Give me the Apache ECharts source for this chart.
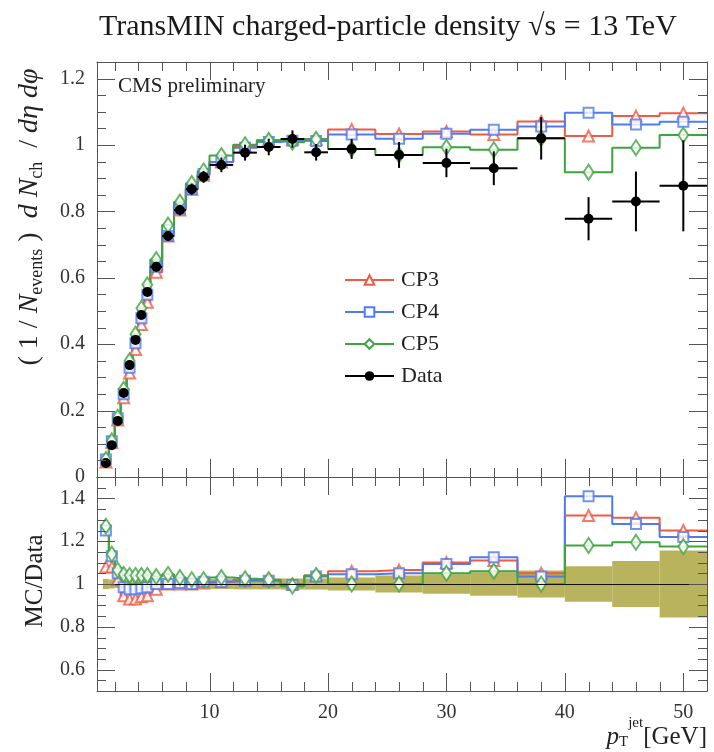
<!DOCTYPE html>
<html><head><meta charset="utf-8">
<script src="https://cdn.jsdelivr.net/npm/echarts@6/dist/echarts.min.js"></script>
<style>html,body{margin:0;padding:0;background:#fff}#c{width:714px;height:752px}</style>
</head><body><div id="c"></div>
<script>
// ---- data ----
const binEdges = [1,1.5,2,2.5,3,3.5,4,4.5,5,6,7,8,9,10,12,14,16,18,20,24,28,32,36,40,44,48,52];
const dataVals = [0.042,0.096,0.169,0.253,0.337,0.413,0.488,0.557,0.633,0.726,0.804,0.867,0.904,0.940,0.977,0.994,1.018,0.978,0.988,0.970,0.946,0.930,1.020,0.778,0.830,0.877];
const dataErr  = [0.001,0.002,0.003,0.005,0.007,0.008,0.010,0.011,0.013,0.015,0.016,0.017,0.018,0.022,0.024,0.025,0.026,0.025,0.030,0.039,0.043,0.051,0.064,0.065,0.090,0.137];
const cp3Vals  = [0.045,0.104,0.172,0.239,0.313,0.384,0.459,0.526,0.617,0.726,0.804,0.867,0.909,0.949,0.997,1.014,1.018,1.017,1.047,1.033,1.041,1.032,1.071,1.027,1.087,1.096];
const cp4Vals  = [0.053,0.108,0.177,0.249,0.329,0.403,0.478,0.549,0.633,0.726,0.808,0.867,0.913,0.949,0.992,1.009,1.013,1.012,1.032,1.019,1.034,1.046,1.056,1.097,1.062,1.070];
const cp5Vals  = [0.053,0.109,0.180,0.264,0.350,0.430,0.508,0.579,0.655,0.759,0.828,0.884,0.922,0.968,1.001,1.014,1.008,1.017,0.988,0.970,0.993,0.986,1.020,0.918,0.992,1.030];
const cp3Ratio = [1.08,1.08,1.02,0.945,0.93,0.93,0.94,0.945,0.975,1.0,1.0,1.0,1.005,1.01,1.02,1.02,1.0,1.04,1.06,1.065,1.10,1.11,1.05,1.32,1.31,1.25];
const cp4Ratio = [1.25,1.13,1.05,0.985,0.975,0.975,0.98,0.985,1.0,1.0,1.005,1.0,1.01,1.01,1.015,1.015,0.995,1.035,1.045,1.05,1.093,1.125,1.035,1.41,1.28,1.22];
const cp5Ratio = [1.27,1.14,1.065,1.045,1.04,1.04,1.04,1.04,1.035,1.045,1.03,1.02,1.02,1.03,1.025,1.02,0.99,1.04,1.0,1.0,1.05,1.06,1.0,1.18,1.195,1.175];
const bandRel  = [0.024,0.021,0.018,0.02,0.021,0.019,0.02,0.02,0.02,0.021,0.02,0.02,0.02,0.023,0.025,0.025,0.026,0.026,0.03,0.04,0.045,0.055,0.063,0.083,0.108,0.156];
const seriesNames = ['CP3','CP4','CP5','Data'];
const xMajorTicks = [10,20,30,40,50];
const xMinorTicks = [2,4,6,8,12,14,16,18,22,24,26,28,32,34,36,38,42,44,46,48];
const yMainLabels = [0,0.2,0.4,0.6,0.8,1,1.2];
const yRatioLabels = [0.6,0.8,1,1.2,1.4];

// ---- style ----
const SERIF = '"Liberation Serif", "DejaVu Serif", serif';
const FRAME = '#555';
const RED = '#ef5a45', BLUE = '#4f7bf0', GREEN = '#3ea43e', BAND = '#bab35d';
const X_MIN = 0.5, X_MAX = 52;
const MAJOR_LEN = 18, MINOR_LEN = 9;

const centers = binEdges.slice(0,-1).map((e,i)=> (e + binEdges[i+1]) / 2);
function stepPts(vals){
  const pts = [];
  vals.forEach((v,i)=>{ pts.push([binEdges[i], v]); pts.push([centers[i], v]); });
  pts.push([binEdges[vals.length], vals[vals.length-1]]);
  return pts;
}
function minorList(lo, hi, step, majors){
  const out = [];
  for (let k = Math.round(lo/step); k*step <= hi + 1e-9; k++){
    const v = +(k*step).toFixed(3);
    if (!majors.some(m => Math.abs(m - v) < 1e-6)) out.push(v);
  }
  return out;
}
const yMainMinor = minorList(0, 1.25, 0.05, yMainLabels);
const yRatioMinor = minorList(0.5, 1.5, 0.05, yRatioLabels);
const fmt = v => String(+(+v).toFixed(2));

function xAx(grid, pos, labels){
  return {
    type:'value', gridIndex:grid, position:pos, min:X_MIN, max:X_MAX,
    axisLine:{show:true, onZero:false, lineStyle:{color:FRAME, width:1}},
    axisTick:{show:false},
    axisLabel: labels ? {show:true, customValues:labels, margin:12, fontFamily:SERIF, fontSize:20, color:'#333', formatter:fmt} : {show:false},
    splitLine:{show:false}
  };
}
function yAx(grid, pos, min, max, labels){
  return {
    type:'value', gridIndex:grid, position:pos, min:min, max:max,
    axisLine:{show:true, onZero:false, lineStyle:{color:FRAME, width:1}},
    axisTick:{show:false},
    axisLabel: labels ? {show:true, customValues:labels, margin:12, fontFamily:SERIF, fontSize:20, color:'#333', formatter:fmt} : {show:false},
    splitLine:{show:false}
  };
}
const xAxes = [ xAx(0,'bottom',null), xAx(0,'top',null), xAx(1,'bottom',xMajorTicks), xAx(1,'top',null) ];
const yAxes = [ yAx(0,'left',0,1.25,yMainLabels), yAx(0,'right',0,1.25,null),
                yAx(1,'left',0.5,1.5,yRatioLabels), yAx(1,'right',0.5,1.5,null) ];

function tickSeries(xi, yi, yMin, xMajor, xMinor, yMajor, yMinor){
  const items = [];
  xMajor.forEach(v=>items.push([0, v, MAJOR_LEN]));
  xMinor.forEach(v=>items.push([0, v, MINOR_LEN]));
  yMajor.forEach(v=>items.push([1, v, MAJOR_LEN]));
  yMinor.forEach(v=>items.push([1, v, MINOR_LEN]));
  return {
    name:'ticks'+xi, type:'custom', xAxisIndex:xi, yAxisIndex:yi, z:10, silent:true, clip:false,
    data:items,
    renderItem:(params, api)=>{
      const cs = params.coordSys;
      const kind = api.value(0), v = api.value(1), L = api.value(2);
      const st = {stroke:FRAME, lineWidth:1};
      if (kind === 0){
        const px = Math.round(api.coord([v, yMin])[0]) + 0.5;
        const yb = cs.y + cs.height, yt = cs.y;
        return {type:'group', children:[
          {type:'line', shape:{x1:px, y1:yb, x2:px, y2:yb-L}, style:st},
          {type:'line', shape:{x1:px, y1:yt, x2:px, y2:yt+L}, style:st}
        ]};
      } else {
        const py = Math.round(api.coord([X_MIN, v])[1]) + 0.5;
        const xl = cs.x, xr = cs.x + cs.width;
        return {type:'group', children:[
          {type:'line', shape:{x1:xl, y1:py, x2:xl+L, y2:py}, style:st},
          {type:'line', shape:{x1:xr, y1:py, x2:xr-L, y2:py}, style:st}
        ]};
      }
    }
  };
}

const mcDefs = [
  {name:'CP3', vals:cp3Vals, ratio:cp3Ratio, color:RED,   symbol:'emptyTriangle', size:11},
  {name:'CP4', vals:cp4Vals, ratio:cp4Ratio, color:BLUE,  symbol:'emptyRect',     size:10},
  {name:'CP5', vals:cp5Vals, ratio:cp5Ratio, color:GREEN, symbol:'emptyDiamond',  size:[10,15]}
];

const series = [];
series.push(tickSeries(0, 0, 0, xMajorTicks, xMinorTicks, yMainLabels, yMainMinor));
series.push(tickSeries(2, 2, 0.5, xMajorTicks, xMinorTicks, yRatioLabels, yRatioMinor));
series.push({
  name:'band', type:'custom', xAxisIndex:2, yAxisIndex:2, z:1, silent:true,
  data: bandRel.map((b,i)=>[binEdges[i], binEdges[i+1], b]),
  encode:{x:[0,1], y:2},
  renderItem:(params, api)=>{
    const lo=api.value(0), hi=api.value(1), b=api.value(2);
    const p1 = api.coord([lo, 1+b]), p2 = api.coord([hi, 1-b]);
    return {type:'rect', shape:{x:p1[0], y:p1[1], width:p2[0]-p1[0], height:p2[1]-p1[1]}, style:{fill:BAND}};
  },
  markLine:{silent:true, symbol:['none','none'], label:{show:false}, lineStyle:{color:'#111', width:1, type:'solid'}, data:[{yAxis:1}]}
});
mcDefs.forEach(d=>{
  series.push({
    name:d.name, type:'line', step:'end', xAxisIndex:0, yAxisIndex:0, z:3,
    data: stepPts(d.vals), showSymbol:false, symbol:d.symbol, symbolSize:10,
    itemStyle:{color:d.color}, lineStyle:{color:d.color, width:2}
  });
  series.push({
    name:d.name+' markers', type:'scatter', xAxisIndex:0, yAxisIndex:0, z:4,
    data: d.vals.map((v,i)=>[centers[i], v]), symbol:d.symbol, symbolSize:d.size,
    itemStyle:{color:d.color, borderWidth:1.5}
  });
  series.push({
    name:d.name+'/Data', type:'line', step:'end', xAxisIndex:2, yAxisIndex:2, z:3,
    data: stepPts(d.ratio), showSymbol:false, symbol:'none',
    lineStyle:{color:d.color, width:2}
  });
  series.push({
    name:d.name+'/Data markers', type:'scatter', xAxisIndex:2, yAxisIndex:2, z:4,
    data: d.ratio.map((v,i)=>[centers[i], v]), symbol:d.symbol, symbolSize:d.size,
    itemStyle:{color:d.color, borderWidth:1.5}
  });
});
series.push({
  name:'Data errors', type:'custom', xAxisIndex:0, yAxisIndex:0, z:6, silent:true,
  data: dataVals.map((v,i)=>[binEdges[i], binEdges[i+1], centers[i], v, dataErr[i]]),
  encode:{x:[0,1], y:3},
  renderItem:(params, api)=>{
    const lo=api.value(0), hi=api.value(1), c=api.value(2), v=api.value(3), e=api.value(4);
    const a=api.coord([lo,v]), b=api.coord([hi,v]), t=api.coord([c,v+e]), u=api.coord([c,v-e]);
    return {type:'group', children:[
      {type:'line', shape:{x1:a[0],y1:a[1],x2:b[0],y2:b[1]}, style:{stroke:'#000', lineWidth:2}},
      {type:'line', shape:{x1:t[0],y1:t[1],x2:u[0],y2:u[1]}, style:{stroke:'#000', lineWidth:2}}
    ]};
  }
});
series.push({
  name:'Data', type:'line', xAxisIndex:0, yAxisIndex:0, z:7,
  data: dataVals.map((v,i)=>[centers[i], v]), symbol:'circle', symbolSize:10, showSymbol:true,
  itemStyle:{color:'#000'}, lineStyle:{width:0, opacity:0}
});

const option = {
  animation:false,
  backgroundColor:'#fff',
  title:{text:'TransMIN charged-particle density √s = 13 TeV', left:94, top:7,
    textStyle:{fontFamily:SERIF, fontSize:30, fontWeight:'normal', color:'#1a1a1a'}},
  grid:[
    {left:97, right:7, top:62, height:415},
    {left:97, right:7, top:477, height:214}
  ],
  xAxis:xAxes, yAxis:yAxes,
  legend:{
    left:339, top:264, orient:'vertical', itemWidth:49, itemHeight:12, itemGap:10,
    data:[
      {name:'CP3'},{name:'CP4'},{name:'CP5'},
      {name:'Data', lineStyle:{color:'#000', width:2, opacity:1}}
    ],
    textStyle:{fontFamily:SERIF, fontSize:22, color:'#222', lineHeight:22, padding:[0,0,0,2]},
    selectedMode:false
  },
  graphic:[
    {type:'text', left:118, top:76, style:{text:'CMS preliminary', fontFamily:SERIF, fontSize:21, fill:'#222'}},
    {type:'text', x:30, y:217, rotation:Math.PI/2, style:{
      text:'{n|( 1 / }{i|N}{s|events}{n| )  }{i|d N}{s|ch}{n|  / }{i|dη dφ}',
      align:'center', verticalAlign:'middle',
      rich:{
        n:{fontFamily:SERIF, fontSize:28, fill:'#222', lineHeight:32, verticalAlign:'middle'},
        i:{fontFamily:SERIF, fontSize:28, fontStyle:'italic', fill:'#222', lineHeight:32, verticalAlign:'middle'},
        s:{fontFamily:SERIF, fontSize:18, fill:'#222', lineHeight:32, verticalAlign:'bottom'}
      }}},
    {type:'text', x:35, y:581, rotation:Math.PI/2, style:{
      text:'MC/Data', align:'center', verticalAlign:'middle', fontFamily:SERIF, fontSize:25, fill:'#222'}},
    {type:'text', right:7, top:716, style:{
      text:'{i|p}{s|T}{u|jet}{n|[GeV]}',
      rich:{
        n:{fontFamily:SERIF, fontSize:25, fill:'#222', lineHeight:34, verticalAlign:'bottom'},
        i:{fontFamily:SERIF, fontSize:25, fontStyle:'italic', fill:'#222', lineHeight:34, verticalAlign:'bottom'},
        s:{fontFamily:SERIF, fontSize:15, fill:'#222', lineHeight:34, verticalAlign:'bottom'},
        u:{fontFamily:SERIF, fontSize:15, fill:'#222', lineHeight:34, verticalAlign:'top'}
      }}}
  ],
  series:series
};
const chart = echarts.init(document.getElementById('c'), null, {renderer:'canvas'});
chart.setOption(option);
</script>
</body></html>
